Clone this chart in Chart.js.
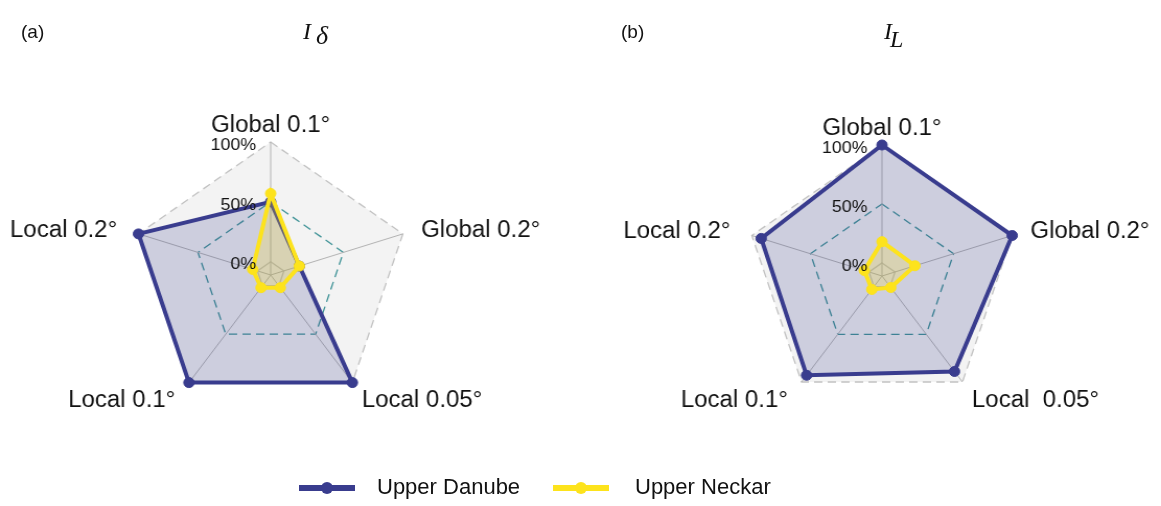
<!DOCTYPE html>
<html>
<head>
<meta charset="utf-8">
<script src="https://cdn.jsdelivr.net/npm/chart.js@4.4.1/dist/chart.umd.min.js"></script>
<style>
  body { margin: 0; width: 1161px; height: 506px; background: #fff; position: relative; overflow: hidden;
         font-family: "Liberation Sans", Arial, sans-serif; color: #111; }
  canvas { position: absolute; top: 0; }
  #chartA { left: 0; }
  #chartB { left: 580px; }
  .tag { position: absolute; font-size: 19px; line-height: 19px; }
  .ttl { position: absolute; font-family: "Liberation Serif", serif; font-style: italic; }
  .legLine { position: absolute; height: 6px; top: 485px; }
  .legDot { position: absolute; width: 12px; height: 12px; border-radius: 50%; top: -3px; left: 50%; margin-left: -6px; }
  .legText { position: absolute; font-size: 22px; line-height: 22px; top: 476px; }
</style>
</head>
<body>
<!-- the source figure is a little wider than tall, so the canvases are stretched a bit -->
<canvas id="chartA" width="555" height="506" style="width:580px;height:506px"></canvas>
<canvas id="chartB" width="556" height="506" style="width:581px;height:506px"></canvas>

<div class="tag" style="left:21px; top:22px;">(a)</div>
<div class="ttl" style="left:303px; top:19px; font-size:24px; line-height:24px;">I</div>
<div class="ttl" style="left:316px; top:23px; font-size:26px; line-height:26px;">δ</div>

<div class="tag" style="left:621px; top:22px;">(b)</div>
<div class="ttl" style="left:884px; top:19px; font-size:24px; line-height:24px;">I</div>
<div class="ttl" style="left:890px; top:27px; font-size:24px; line-height:24px;">L</div>

<div id="legend"></div>

<script>
// axes, clockwise from the top
const categoriesA = ["Global 0.1°", "Global 0.2°", "Local 0.05°", "Local 0.1°", "Local 0.2°"];
const categoriesB = ["Global 0.1°", "Global 0.2°", "Local  0.05°", "Local 0.1°", "Local 0.2°"];

// (a) I_delta, percent
const danubeDelta = [50, 13, 100, 100, 100];
const neckarDelta = [57, 13, 2, 2, 4];

// (b) I_L, percent
const danubeL = [100, 100, 89, 93, 92];
const neckarL = [18, 17, 1, 3, 4];

const tickValues = [0, 50, 100];
const tickLabels = ["0%", "50%", "100%"];
const seriesNames = ["Upper Danube", "Upper Neckar"];
const seriesColors = ["#393c8e", "#fde31c"];
const seriesFills = ["rgba(57,60,142,0.2)", "rgba(253,227,28,0.22)"];

// point labels + percent labels drawn from the r scale
const radarText = {
  id: "radarText",
  afterDraw(chart) {
    const s = chart.scales.r;
    const ctx = chart.ctx;
    const far = s.getDistanceFromCenterForValue(s.max);
    ctx.save();
    ctx.fillStyle = "#111";
    ctx.font = "23px 'Liberation Sans', Arial, sans-serif";
    chart.data.labels.forEach((lab, i) => {
      const p = s.getPointPosition(i, far + 12);
      const c = Math.cos(p.angle), sn = Math.sin(p.angle);
      let x = p.x, y = p.y;
      ctx.textAlign = c > 0.3 ? "left" : (c < -0.3 ? "right" : "center");
      if (sn < -0.9) {
        ctx.textBaseline = "alphabetic";
        y += 2;
      } else if (sn > 0.5) {
        ctx.textBaseline = "top";
        y -= 3;
        x += c > 0 ? 2 : -6;
      } else {
        ctx.textBaseline = "middle";
        x += c > 0 ? 6 : -9;
      }
      ctx.fillText(lab, x, y);
    });

    ctx.font = "17px 'Liberation Sans', Arial, sans-serif";
    ctx.textAlign = "right";
    ctx.textBaseline = "middle";
    tickValues.forEach((v, i) => {
      const d = s.getDistanceFromCenterForValue(v);
      ctx.fillText(tickLabels[i], s.xCenter - 14, s.yCenter - d + 3);
    });
    ctx.restore();
  }
};

function makeRadar(id, labels, danube, neckar, pad) {
  return new Chart(document.getElementById(id), {
    type: "radar",
    data: {
      labels: labels,
      datasets: [
        {
          label: seriesNames[0],
          data: danube,
          order: 1,
          borderColor: seriesColors[0],
          backgroundColor: seriesFills[0],
          pointBackgroundColor: seriesColors[0],
          pointBorderColor: seriesColors[0],
          fill: "start"
        },
        {
          label: seriesNames[1],
          data: neckar,
          order: 0,
          borderColor: seriesColors[1],
          backgroundColor: seriesFills[1],
          pointBackgroundColor: seriesColors[1],
          pointBorderColor: seriesColors[1],
          fill: "start"
        }
      ]
    },
    options: {
      responsive: false,
      animation: false,
      devicePixelRatio: 1,
      layout: { padding: pad },
      elements: {
        line: { borderWidth: 4, tension: 0 },
        point: { radius: 5, borderWidth: 1, hoverRadius: 5 }
      },
      plugins: { legend: { display: false }, tooltip: { enabled: false } },
      scales: {
        r: {
          min: -11.1,
          max: 100,
          backgroundColor: "#f3f3f3",
          afterBuildTicks: (s) => { s.ticks = tickValues.map(v => ({ value: v })); },
          ticks: { display: false },
          pointLabels: { display: false },
          grid: {
            circular: false,
            color: (c) => (c.tick && c.tick.value === 50) ? "#3f9397" : "#c2c2c2",
            lineWidth: 1.3
          },
          border: {
            dash: (c) => (c.tick && c.tick.value === 0) ? [] : [8, 5]
          },
          angleLines: { color: "#b3b3b3", lineWidth: 1 }
        }
      }
    },
    plugins: [radarText]
  });
}

makeRadar("chartA", categoriesA, danubeDelta, neckarDelta, { left: 126, right: 163, top: 142, bottom: 98 });
makeRadar("chartB", categoriesB, danubeL, neckarL, { left: 158, right: 136, top: 145, bottom: 99 });

// shared legend
const legend = document.getElementById("legend");
const legLeft = [299, 553];
const legTextLeft = [377, 635];
seriesNames.forEach((name, i) => {
  const line = document.createElement("div");
  line.className = "legLine";
  line.style.left = legLeft[i] + "px";
  line.style.width = "56px";
  line.style.background = seriesColors[i];
  const dot = document.createElement("div");
  dot.className = "legDot";
  dot.style.background = seriesColors[i];
  line.appendChild(dot);
  legend.appendChild(line);

  const txt = document.createElement("div");
  txt.className = "legText";
  txt.style.left = legTextLeft[i] + "px";
  txt.textContent = name;
  legend.appendChild(txt);
});
</script>
</body>
</html>
